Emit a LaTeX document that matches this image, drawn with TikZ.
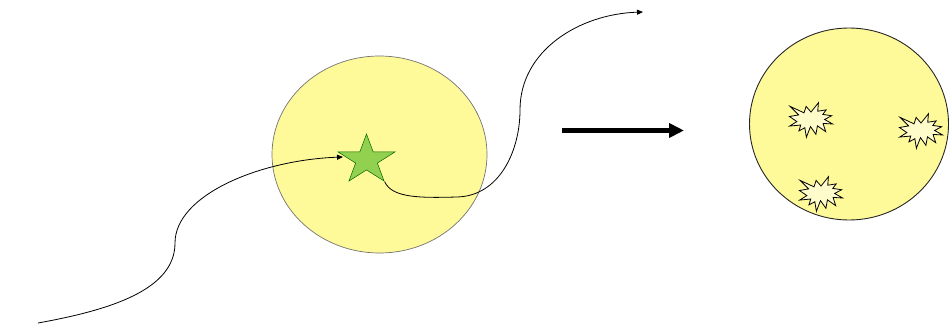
\documentclass[tikz,border=0pt]{standalone}
\usetikzlibrary{arrows.meta,shapes.geometric}

\begin{document}
\begin{tikzpicture}[x=1pt,y=-1pt,
    cellbody/.style={ellipse,draw=black!55,line width=0.7pt,fill=yellow!40!white,inner sep=0pt},
    pathline/.style={-{Triangle[length=6pt,width=5pt]},line width=0.8pt},
    burst/.pic={
      \draw[fill=yellow!20!white,line width=0.8pt,x=0.2pt,y=-0.16pt]
        (0,-50) -- (37.22,-108) -- (33.55,-54.75) -- (75.8,-63.43) -- (59.02,-34.85)
        -- (102.97,-26.63) -- (68.07,-3.25) -- (108,24.9) -- (60.37,21.42) -- (73.45,72.95)
        -- (32.2,36.57) -- (24.47,89.37) -- (-2.68,41.35) -- (-23.15,108) -- (-30.85,48.27)
        -- (-60.38,68.17) -- (-51.33,31.37) -- (-106.65,37.87) -- (-70.78,9.75) -- (-108,-21.85)
        -- (-61.73,-31.83) -- (-104.3,-85.05) -- (-34.88,-44.8) -- (-24.48,-85.05) -- cycle;
    }]
  \useasboundingbox (0,0) rectangle (949,324);

  % cell before
  \node[cellbody,minimum width=215,minimum height=197] (cell) at (379.5,154.5) {};
  \node[star,star points=5,star point ratio=2.618,minimum size=52,inner sep=0pt,
        draw=green!40!black,line width=0.5pt,fill={rgb,255:red,146;green,208;blue,80},
        xscale=1.15,transform shape] (hit) at (366.5,160) {};

  % track in and out
  \coordinate (src) at (38,323);
  \coordinate (stop) at (343,157);
  \coordinate (far) at (643,12);
  \draw[pathline] (src) .. controls (110,310) and (175,290) .. (175,243)
    .. controls (175,195) and (260,160) .. (stop);
  \draw[pathline] (hit.outer point 4) .. controls (392,198) and (420,198) .. (457,197)
    .. controls (500,196) and (520,150) .. (520,110)
    .. controls (520,50) and (580,14) .. (far);

  % big arrow
  \coordinate (go1) at (562,130.5);
  \coordinate (go2) at (684,130.5);
  \draw[-{Triangle[length=15pt,width=14pt]},line width=4.5pt] (go1) -- (go2);

  % cell after
  \node[cellbody,draw=black!85,line width=0.9pt,minimum width=199,minimum height=192] (cell2) at (849,124) {};
  \pic (b1) at (811,120) {burst};
  \pic (b2) at (921,131) {burst};
  \pic (b3) at (821,194) {burst};
\end{tikzpicture}
\end{document}
